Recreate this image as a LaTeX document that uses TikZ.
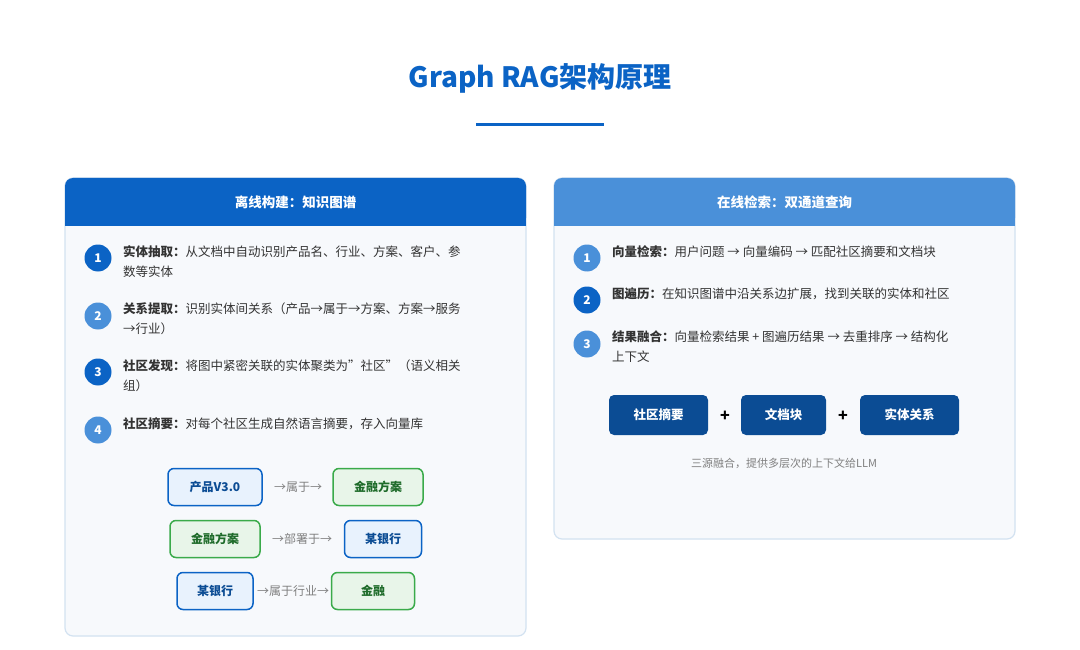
\documentclass[tikz,border=0pt]{standalone}
\usepackage{fontspec}
\setmainfont{Noto Sans CJK SC}
\usetikzlibrary{positioning}
\definecolor{darkblue}{HTML}{0B63C5}
\definecolor{lightblue}{HTML}{4A90D9}
\definecolor{navy}{HTML}{0B4C94}
\definecolor{panelbg}{HTML}{F7F9FC}
\definecolor{panelline}{HTML}{D3E2F1}
\definecolor{entbg}{HTML}{E8F2FD}
\definecolor{grnbg}{HTML}{E8F5E9}
\definecolor{grnline}{HTML}{3AAA4A}
\definecolor{grntext}{HTML}{1E6B2A}
\definecolor{bodytext}{HTML}{333333}
\tikzset{
  num/.style={shape=circle,minimum size=27pt,inner sep=0pt,text=white,font=\fontsize{12}{12}\selectfont\bfseries},
  item/.style={anchor=north west,align=left,text=bodytext,inner sep=0pt,font=\fontsize{12.5}{20}\selectfont},
  ent/.style={draw=darkblue,fill=entbg,line width=1.5pt,rounded corners=6pt,minimum height=37pt,text=navy,font=\fontsize{12}{12}\selectfont\bfseries},
  grn/.style={draw=grnline,fill=grnbg,line width=1.5pt,rounded corners=6pt,minimum height=37pt,text=grntext,font=\fontsize{12}{12}\selectfont\bfseries},
  rel/.style={text=gray,font=\fontsize{12}{12}\selectfont},
  src/.style={fill=navy,rounded corners=5pt,minimum height=40pt,text=white,font=\fontsize{12.5}{12}\selectfont\bfseries}
}
\begin{document}
\begin{tikzpicture}[x=1pt,y=-1pt]
  \useasboundingbox[fill=white] (0,0) rectangle (1080,650);
  \node[text=darkblue,font=\fontsize{28}{28}\selectfont\bfseries] (title) at (540,78) {Graph RAG架构原理};
  \draw[darkblue,line width=3pt] (476,125) -- (604,125);
  % left panel
  \draw[panelline,fill=panelbg,line width=1.2pt,rounded corners=8pt] (65,178) rectangle (526,636);
  \fill[darkblue,rounded corners=8pt] (65,178) rectangle (526,226);
  \fill[darkblue] (65,210) rectangle (526,226);
  \node[text=white,font=\fontsize{13.5}{14}\selectfont\bfseries] (lhead) at (295.5,202) {离线构建：知识图谱};
  \node[num,fill=darkblue] (l1) at (98,258) {1};
  \node[num,fill=lightblue] (l2) at (98,316) {2};
  \node[num,fill=darkblue] (l3) at (98,372) {3};
  \node[num,fill=lightblue] (l4) at (98,430) {4};
  \node[item] (t1) at (123,245) {\textbf{实体抽取：}从文档中自动识别产品名、行业、方案、客户、参\\数等实体};
  \node[item] (t2) at (123,302) {\textbf{关系提取：}识别实体间关系（产品→属于→方案、方案→服务\\→行业）};
  \node[item] (t3) at (123,359) {\textbf{社区发现：}将图中紧密关联的实体聚类为"社区"（语义相关\\组）};
  \node[item] (t4) at (123,417) {\textbf{社区摘要：}对每个社区生成自然语言摘要，存入向量库};
  \node[ent,minimum width=94pt] (prod) at (215,487) {产品V3.0};
  \node[rel] (r1) at (298,487) {→属于→};
  \node[grn,minimum width=90pt] (fin1) at (378,487) {金融方案};
  \node[grn,minimum width=90pt] (fin2) at (215,539) {金融方案};
  \node[rel] (r2) at (302,539) {→部署于→};
  \node[ent,minimum width=77pt] (bank1) at (383,539) {某银行};
  \node[ent,minimum width=76pt] (bank2) at (215,591) {某银行};
  \node[rel] (r3) at (293,591) {→属于行业→};
  \node[grn,minimum width=83pt] (fin3) at (373,591) {金融};
  % right panel
  \draw[panelline,fill=panelbg,line width=1.2pt,rounded corners=8pt] (554,178) rectangle (1015,539);
  \fill[lightblue,rounded corners=8pt] (554,178) rectangle (1015,226);
  \fill[lightblue] (554,210) rectangle (1015,226);
  \node[text=white,font=\fontsize{13.5}{14}\selectfont\bfseries] (rhead) at (784.5,202) {在线检索：双通道查询};
  \node[num,fill=lightblue] (q1) at (587,258) {1};
  \node[num,fill=darkblue] (q2) at (587,300) {2};
  \node[num,fill=lightblue] (q3) at (587,344) {3};
  \node[item] (s1) at (612,245) {\textbf{向量检索：}用户问题 → 向量编码 → 匹配社区摘要和文档块};
  \node[item] (s2) at (612,288) {\textbf{图遍历：}在知识图谱中沿关系边扩展，找到关联的实体和社区};
  \node[item] (s3) at (612,331) {\textbf{结果融合：}向量检索结果 + 图遍历结果 → 去重排序 → 结构化\\上下文};
  \node[src,minimum width=99pt] (comm) at (658.5,415) {社区摘要};
  \node[font=\fontsize{16}{16}\selectfont\bfseries] (plus1) at (725,416) {+};
  \node[src,minimum width=85pt] (doc) at (783.5,415) {文档块};
  \node[font=\fontsize{16}{16}\selectfont\bfseries] (plus2) at (843,416) {+};
  \node[src,minimum width=99pt] (rels) at (909.5,415) {实体关系};
  \node[text=gray,font=\fontsize{11}{11}\selectfont] (cap) at (784,463) {三源融合，提供多层次的上下文给LLM};
\end{tikzpicture}
\end{document}
